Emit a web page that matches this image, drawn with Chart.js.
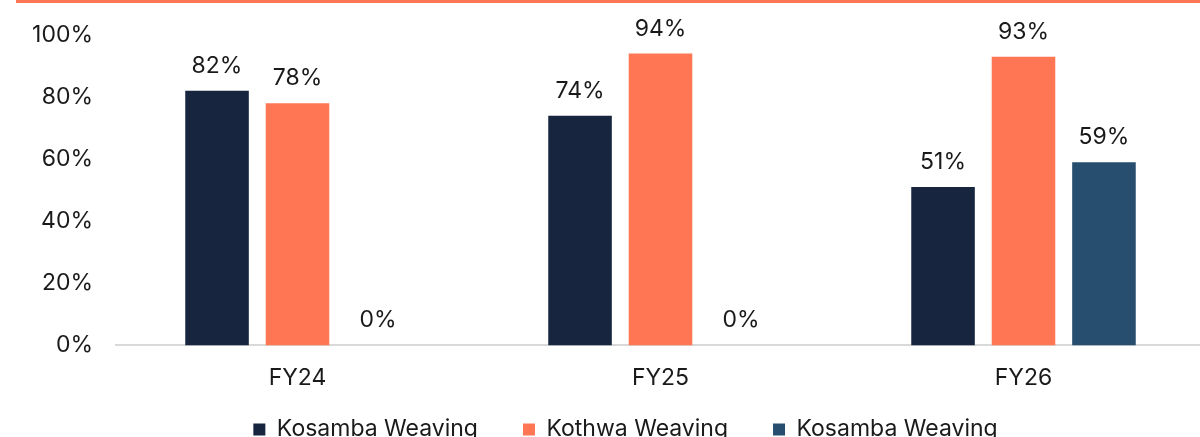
<!DOCTYPE html>
<html>
<head>
<meta charset="utf-8">
<script src="https://cdn.jsdelivr.net/npm/chart.js@4.4.1/dist/chart.umd.min.js"></script>
<style>
    html, body { margin: 0; padding: 0; background: #ffffff; overflow: hidden; }
    .top-rule { position: absolute; left: 16px; top: 0; width: 1184px; height: 3px; background: #FF7654; z-index: 2; }
    .chart-wrap { position: absolute; left: 0; top: 0; width: 1205px; height: 481px; }
</style>
</head>
<body>
<div class="top-rule"></div>
<div class="chart-wrap"><canvas id="utilChart"></canvas></div>
<script>
// Data
const categories = ['FY24', 'FY25', 'FY26'];
const seriesNames = ['Kosamba Weaving', 'Kothwa Weaving', 'Kosamba Weaving'];
const kosambaValues = [82, 74, 51];
const kothwaValues = [78, 94, 93];
const kosamba2Values = [0, 0, 59];
const yTicks = [0, 20, 40, 60, 80, 100];

const colors = ['#17253F', '#FF7654', '#274E6E'];
const FONT = 'Inter, "Liberation Sans", Arial, sans-serif';

// Percent labels above each bar
const barLabels = {
    id: 'barLabels',
    afterDatasetsDraw(chart) {
        const ctx = chart.ctx;
        ctx.save();
        ctx.font = '23px ' + FONT;
        ctx.fillStyle = '#1a1a1a';
        ctx.textAlign = 'center';
        ctx.textBaseline = 'middle';
        chart.data.datasets.forEach((ds, i) => {
            chart.getDatasetMeta(i).data.forEach((bar, j) => {
                ctx.fillText(ds.data[j] + '%', bar.x, bar.y - 25);
            });
        });
        ctx.restore();
    }
};

// Legend sits right of centre and closer to the axis labels
const legendShift = {
    id: 'legendShift',
    afterLayout(chart) {
        const lg = chart.legend;
        lg.left += 23;
        lg.right += 23;
        lg.top -= 30;
        lg.bottom -= 30;
    }
};

new Chart(document.getElementById('utilChart'), {
    type: 'bar',
    data: {
        labels: categories,
        datasets: [
            { label: seriesNames[0], data: kosambaValues, backgroundColor: colors[0] },
            { label: seriesNames[1], data: kothwaValues, backgroundColor: colors[1] },
            { label: seriesNames[2], data: kosamba2Values, backgroundColor: colors[2] }
        ]
    },
    options: {
        responsive: true,
        maintainAspectRatio: false,
        animation: false,
        datasets: {
            bar: { categoryPercentage: 0.665, barPercentage: 0.79 }
        },
        layout: { padding: { top: 35, left: 0, right: 0, bottom: 0 } },
        plugins: {
            legend: {
                position: 'bottom',
                labels: {
                    font: { family: FONT, size: 23 },
                    color: '#1a1a1a',
                    boxWidth: 12,
                    boxHeight: 12,
                    padding: 45
                }
            },
            tooltip: { enabled: false }
        },
        scales: {
            x: {
                grid: { display: false },
                border: { display: true, color: '#D9D9D9', width: 2 },
                ticks: {
                    font: { family: FONT, size: 23 },
                    color: '#1a1a1a',
                    padding: 11
                }
            },
            y: {
                min: 0,
                max: 100,
                afterBuildTicks: function(axis) {
                    axis.ticks = yTicks.map(v => ({ value: v }));
                },
                afterFit: function(axis) {
                    axis.width = 116;
                },
                grid: { display: false },
                border: { display: false },
                ticks: {
                    font: { family: FONT, size: 23 },
                    color: '#1a1a1a',
                    padding: 15,
                    callback: function(value) {
                        return value + '%';
                    }
                }
            }
        }
    },
    plugins: [barLabels, legendShift]
});
</script>
</body>
</html>
